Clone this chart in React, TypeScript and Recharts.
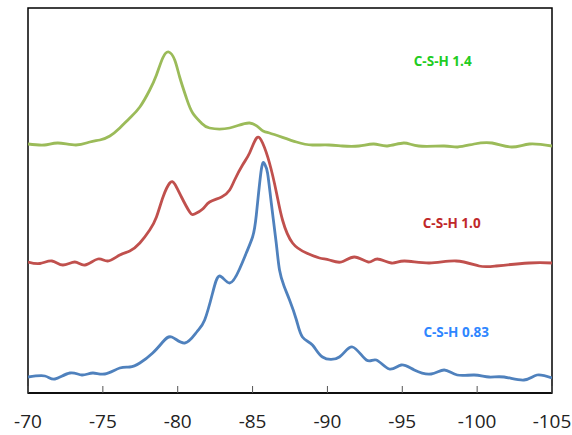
import { LineChart, Line, XAxis, YAxis, ReferenceArea, ReferenceDot } from "recharts";

// chemical shift (ppm) and relative intensity for each spectrum
const green14Shift = [
  -70, -71.1, -72, -73.2, -74.13, -74.8, -75.47, -76.13, -76.8, -77.47, -78.13, -78.58,
  -79, -79.4, -79.8, -80.13, -80.58, -81, -81.58, -82.13, -83.47, -84.8, -85.6, -86.13,
  -87.93, -89, -90.1, -91, -92.1, -93.1, -94, -95.1, -96.1, -97.8, -98.7, -99.8, -101,
  -102.3, -103.5, -105,
];
const green14Value = [
  249, 248, 250, 248, 251, 253, 257, 265, 275, 286, 303, 318,
  335, 341, 333, 316, 295, 280, 270, 265, 265, 270, 263, 260,
  251, 248, 248, 247, 247, 249, 247, 250, 247, 247, 246, 249, 250,
  246, 249, 247,
];

const red10Shift = [
  -70, -70.8, -71.6, -72.33, -73.13, -73.8, -74.67, -75.33, -76.13, -76.8, -77.47, -78.13,
  -78.58, -79.02, -79.47, -79.8, -80.25, -80.8, -81.13, -81.67, -82.13, -82.93, -83.47,
  -83.8, -84.33, -84.8, -85.27, -85.67, -86.13, -86.6, -87, -87.67, -88.6, -89.47, -90.13,
  -90.93, -91.8, -92.73, -93.33, -94.27, -95.13, -96.8, -98.6, -100.13, -101.27, -103.47,
  -105,
];
const red10Value = [
  131, 129.5, 132, 128, 131, 128, 134, 132, 138, 142, 150, 163,
  176, 196, 210, 209, 196, 181, 179, 184, 191, 196, 203,
  213, 228, 240, 255, 250, 230, 200, 173, 150, 140, 135, 133,
  131, 136, 131, 134, 130, 132, 130, 132, 127, 127, 130,
  130,
];

const blue083Shift = [
  -70, -71.13, -71.8, -72.8, -73.6, -74.33, -75.13, -76.13, -76.8, -77.47, -78.33, -79,
  -79.6, -80.47, -81.27, -81.8, -82.33, -82.8, -83.47, -84.13, -84.58, -85, -85.25,
  -85.58, -85.8, -86, -86.25, -86.58, -86.8, -87.1, -87.47, -87.93, -88.33, -89, -89.67,
  -90.8, -91.67, -92.6, -93.27, -94.13, -94.93, -95.8, -96.93, -97.8, -98.67, -99.8,
  -100.8, -101.8, -103.13, -104, -105,
];
const blue083Value = [
  16, 17, 14, 20, 18, 20, 19, 25, 26, 30, 40, 51,
  56, 50, 61, 73, 100, 117, 110, 124, 140, 156, 178,
  223, 229, 220, 190, 150, 123, 107, 93, 73, 56, 48, 36,
  36, 46, 33, 33, 24, 28, 23, 19, 23, 18, 18,
  16, 16, 13, 18, 15,
];

const xTicks = [-70, -75, -80, -85, -90, -95, -100, -105];

const seriesLabels = ["C-S-H 1.4", "C-S-H 1.0", "C-S-H 0.83"];
const labelShift = [-97.7, -98.3, -98.6];
const labelValue = [332, 170, 61];

const lineColors = ["#9bbb59", "#c0504d", "#4f81bd"];
const labelColors = ["#22cc22", "#c0282a", "#2e86ff"];

const toPoints = (shift: number[], value: number[]) =>
  shift.map((s, i) => ({ shift: s, value: value[i] }));

const series = [
  toPoints(green14Shift, green14Value),
  toPoints(red10Shift, red10Value),
  toPoints(blue083Shift, blue083Value),
];

export default function App() {
  return (
    <div style={{ position: "absolute", left: 0, top: 0, background: "#fff" }}>
      <LineChart
        width={572}
        height={435}
        margin={{ top: 8, right: 20, left: 28, bottom: 0 }}
        style={{ fontFamily: "'Open Sans', sans-serif" }}
      >
        <XAxis
          type="number"
          dataKey="shift"
          domain={[-105, -70]}
          reversed
          ticks={xTicks}
          allowDataOverflow
          height={42}
          axisLine={{ stroke: "#000", strokeWidth: 1.5 }}
          tickLine={{ stroke: "#555", strokeWidth: 1 }}
          tickSize={-7}
          tickMargin={29}
          tick={{ fill: "#222", fontSize: 19 }}
        />
        <YAxis type="number" domain={[0, 385]} hide allowDataOverflow />
        <ReferenceArea
          x1={-70}
          x2={-105}
          y1={0}
          y2={385}
          fill="none"
          stroke="#000"
          strokeWidth={1.5}
          ifOverflow="visible"
        />
        {series.map((data, i) => (
          <Line
            key={seriesLabels[i]}
            data={data}
            dataKey="value"
            type="natural"
            stroke={lineColors[i]}
            strokeWidth={2.8}
            dot={false}
            activeDot={false}
            isAnimationActive={false}
          />
        ))}
        {seriesLabels.map((name, i) => (
          <ReferenceDot
            key={name}
            x={labelShift[i]}
            y={labelValue[i]}
            r={0}
            stroke="none"
            label={{
              value: name,
              position: "center",
              fill: labelColors[i],
              fontSize: 13.5,
              fontWeight: 700,
            }}
          />
        ))}
      </LineChart>
    </div>
  );
}
